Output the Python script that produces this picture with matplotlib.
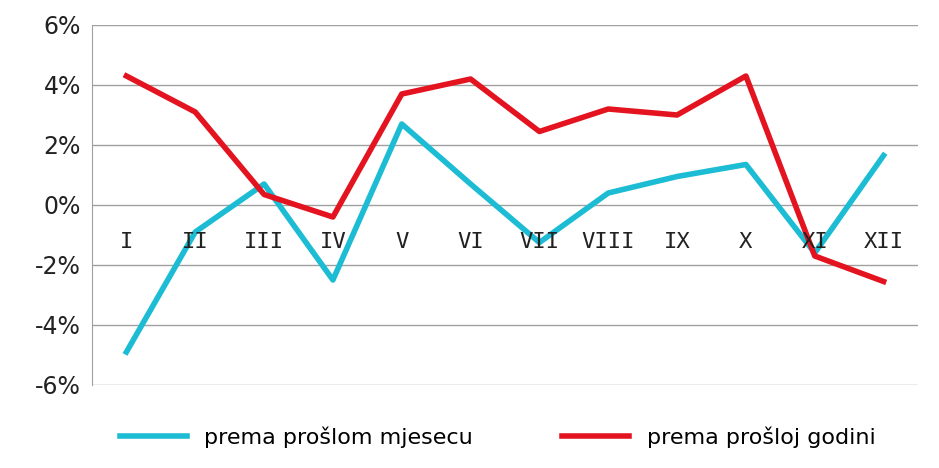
import matplotlib
matplotlib.use("Agg")
import matplotlib.pyplot as plt

categories = ["I","II","III","IV","V","VI","VII","VIII","IX","X","XI","XII"]
mjesec = [-4.9,-0.9,0.7,-2.5,2.7,0.7,-1.25,0.4,0.95,1.35,-1.6,1.65]
godina = [4.3,3.1,0.35,-0.4,3.7,4.2,2.45,3.2,3.0,4.3,-1.7,-2.55]
yticks = [-6,-4,-2,0,2,4,6]

fig = plt.figure(figsize=(9.39,4.68), dpi=100)
ax = fig.add_axes([92/939, 1-385/468, 826/939, 360/468])
x = list(range(len(categories)))
ax.plot(x, mjesec, color="#1bbcd4", lw=4, label="prema prošlom mjesecu", zorder=3)
ax.plot(x, godina, color="#e3141f", lw=4, label="prema prošloj godini", zorder=3)
ax.set_xlim(-0.5, 11.5)
ax.set_ylim(-6, 6)
ax.set_yticks(yticks)
ax.set_yticklabels([f"{v}%" for v in yticks], fontsize=17, color="#222222")
for v in yticks:
    ax.axhline(v, color="#a0a0a0", lw=1, zorder=1)
ax.set_xticks([])
for i, c in enumerate(categories):
    ax.text(i, -1.25, c, ha="center", va="center", fontsize=16, family="DejaVu Sans Mono", color="#222222")
for s in ["top","right","bottom"]:
    ax.spines[s].set_visible(False)
ax.spines["left"].set_color("#a0a0a0")
ax.tick_params(axis="y", length=0, pad=8)
fig.legend(loc="lower center", ncol=2, frameon=False, fontsize=16, bbox_to_anchor=(0.53, 0.0),
           handlelength=3, columnspacing=4)
fig.savefig("out.png", dpi=100)
